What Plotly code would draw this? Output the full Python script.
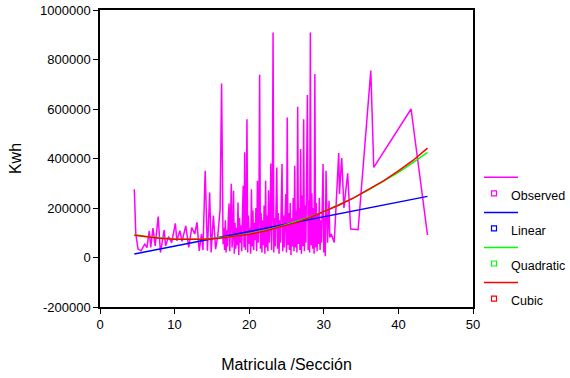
import plotly.graph_objects as go

# ---------------- data (y values in thousands of Kwh) ----------------
obs_x = [4.6, 4.8, 5.1, 5.5, 6.0, 6.3, 6.6, 6.8, 7.1, 7.4, 7.8, 8.1, 8.6, 8.8, 9.2, 9.6,
         10.1, 10.3, 10.7, 11.0, 11.5, 11.9, 12.3, 12.7, 13.0, 13.3, 13.6, 13.8, 14.1, 14.4,
         14.7, 14.9, 15.2, 15.5, 15.8, 16.1, 16.3, 16.5,
         16.6, 16.7, 16.8, 16.9, 17.0, 17.1, 17.2, 17.3, 17.4, 17.5, 17.6, 17.7, 17.8, 17.9,
         18.0, 18.1, 18.2, 18.3, 18.4, 18.5, 18.6, 18.7, 18.8, 18.9, 19.0, 19.1, 19.2, 19.3,
         19.4, 19.5, 19.6, 19.7, 19.8, 19.9, 20.0, 20.1, 20.2, 20.3, 20.4, 20.5, 20.6, 20.7,
         20.8, 20.9, 21.0, 21.1, 21.2, 21.3, 21.4, 21.5, 21.6, 21.7, 21.8, 21.9, 22.0, 22.1,
         22.2, 22.3, 22.4, 22.5, 22.6, 22.7, 22.8, 22.9, 23.0, 23.1, 23.2, 23.3, 23.4, 23.5,
         23.6, 23.7, 23.8, 23.9, 24.0, 24.1, 24.2, 24.3, 24.4, 24.5, 24.6, 24.7, 24.8, 24.9,
         25.0, 25.1, 25.2, 25.3, 25.4, 25.5, 25.6, 25.7, 25.8, 25.9, 26.0, 26.1, 26.2, 26.3,
         26.4, 26.5, 26.6, 26.7, 26.8, 26.9, 27.0, 27.1, 27.2, 27.3, 27.4, 27.5, 27.6, 27.7,
         27.8, 27.9, 28.0, 28.1, 28.2, 28.3, 28.4, 28.5, 28.6, 28.7, 28.8, 28.9, 29.0, 29.1,
         29.2, 29.3, 29.4, 29.5, 29.6, 29.7, 29.8, 29.9, 30.0,
         30.1, 30.2, 30.3, 30.5, 30.7, 30.8, 31.0, 31.4, 32.0, 32.1, 32.4, 32.7, 33.2, 33.6,
         34.6, 36.3, 36.7, 41.7, 43.9]
obs_y = [276, 95, 34, 27, 54, 40, 108, 41, 119, 47, 165, 20, 111, 47, 85, 60,
         138, 68, 108, 65, 128, 41, 121, 95, 142, 27, 95, 30, 350, 27,
         263, 20, 169, 34, 90, 196, 703, 54,
         120, 30, 150, 20, 110, 45, 160, 218, 25, 130, 298, 40, 90, 270,
         15, 140, 35, 120, 50, 222, 10, 160, 60, 130, 25, 180, 290, 40,
         425, 30, 150, 559, 20, 170, 55, 120, 15, 276, 45, 190, 30, 140,
         70, 200, 25, 310, 60, 160, 738, 35, 180, 20, 150, 50, 210, 15,
         310, 40, 170, 25, 272, 60, 140, 380, 30, 190, 909, 20, 160, 45,
         210, 364, 35, 180, 15, 150, 60, 230, 378, 25, 170, 40, 200, 256,
         20, 566, 50, 180, 30, 220, 10, 160, 45, 240, 25, 371, 40, 190,
         20, 609, 55, 200, 30, 438, 15, 250, 45, 559, 25, 210, 60, 280,
         657, 30, 230, 20, 909, 50, 260, 35, 200, 15, 741, 40, 220, 25,
         180, 55, 240, 30, 150, 60, 200, 378, 20,
         160, 5, 350, 60, 229, 81, 95, 61, 422, 257, 402, 200, 340, 115,
         112, 755, 364, 600, 91]

fit_x = [4.6, 6, 8, 10, 12, 14, 16, 18, 20, 22, 24, 26, 28, 30, 32, 34, 36, 38, 40, 42, 43.9]
linear_y = [14, 22, 34, 46, 58, 70, 82, 93, 105, 117, 129, 141, 153, 165, 176, 188, 200, 212, 224, 236, 247]
quadratic_y = [93, 86, 80, 75, 74, 75, 80, 86, 96, 108, 124, 142, 162, 186, 212, 241, 273, 307, 344, 384, 425]
cubic_y = [90, 84, 78, 74, 73, 74, 78, 85, 94, 106, 121, 139, 160, 184, 211, 241, 274, 310, 350, 393, 442]

series_names = ["Observed", "Linear", "Quadratic", "Cubic"]
series_colors = ["#FF00FF", "#0000FF", "#00FF00", "#FF0000"]

y_tick_vals = [-200000, 0, 200000, 400000, 600000, 800000, 1000000]
y_tick_labels = ["-200000", "0", "200000", "400000", "600000", "800000", "1000000"]
x_tick_vals = [0, 10, 20, 30, 40, 50]

# ---------------- layout geometry (page pixels) ----------------
PAGE_W, PAGE_H = 570, 378
PLOT_L, PLOT_R, PLOT_T, PLOT_B = 100, 473, 10, 307


def paper_x(px):
    return (px - PLOT_L) / (PLOT_R - PLOT_L)


def paper_y(py):
    return (PLOT_B - py) / (PLOT_B - PLOT_T)


# ---------------- figure ----------------
K = 1000
series = [
    (obs_x, [v * K for v in obs_y]),
    (fit_x, [v * K for v in linear_y]),
    (fit_x, [v * K for v in quadratic_y]),
    (fit_x, [v * K for v in cubic_y]),
]

fig = go.Figure()
for (xs, ys), name, col in zip(series, series_names, series_colors):
    fig.add_trace(go.Scatter(x=xs, y=ys, mode="lines", name=name,
                             line=dict(color=col, width=1.5), showlegend=False,
                             hoverinfo="x+y+name"))

font_family = "Liberation Sans, Arial, sans-serif"

# legend drawn as: line sample, then small open square + label, per series
shapes = []
annotations = []
LEG_LINE_X0, LEG_LINE_X1 = 484, 518
LEG_MARK_X, LEG_TEXT_X = 494, 509
LEG_Y0, LEG_STEP = 177.3, 35.1
for i, (name, col) in enumerate(zip(series_names, series_colors)):
    ly = LEG_Y0 + i * LEG_STEP
    shapes.append(dict(type="line", xref="paper", yref="paper",
                       x0=paper_x(LEG_LINE_X0), x1=paper_x(LEG_LINE_X1),
                       y0=paper_y(ly), y1=paper_y(ly),
                       line=dict(color=col, width=1.5)))
    my = ly + 16
    shapes.append(dict(type="rect", xref="paper", yref="paper",
                       x0=paper_x(LEG_MARK_X - 2.5), x1=paper_x(LEG_MARK_X + 2.5),
                       y0=paper_y(my + 2.5), y1=paper_y(my - 2.5),
                       line=dict(color=col, width=1.2), fillcolor="rgba(0,0,0,0)"))
    annotations.append(dict(text=name, xref="paper", yref="paper",
                            x=paper_x(LEG_TEXT_X), y=paper_y(ly + 18.3),
                            xanchor="left", yanchor="middle", showarrow=False,
                            font=dict(size=12.5, family=font_family, color="#000000")))

fig.update_layout(
    width=PAGE_W, height=PAGE_H,
    margin=dict(l=PLOT_L, r=PAGE_W - PLOT_R, t=PLOT_T, b=PAGE_H - PLOT_B, autoexpand=False),
    paper_bgcolor="white", plot_bgcolor="white",
    font=dict(family=font_family, color="#000000", size=13),
    showlegend=False,
    shapes=shapes,
    annotations=annotations,
    xaxis=dict(range=[0, 50], tickvals=x_tick_vals, showgrid=False, zeroline=False,
               showline=True, linecolor="#000000", linewidth=1.5, mirror=True,
               ticks="outside", ticklen=5, tickwidth=1, tickcolor="#000000",
               tickfont=dict(size=13),
               title=dict(text="Matricula /Sección", font=dict(size=16), standoff=27),
               automargin=False),
    yaxis=dict(range=[-200000, 1000000], tickvals=y_tick_vals, ticktext=y_tick_labels,
               showgrid=False, zeroline=False,
               showline=True, linecolor="#000000", linewidth=1.5, mirror=True,
               ticks="outside", ticklen=5, tickwidth=1, tickcolor="#000000",
               tickfont=dict(size=13),
               title=dict(text="Kwh", font=dict(size=16), standoff=14),
               automargin=False),
)

# remove the default page margin so the 570x378 figure fills the window exactly
fig.write_html("out.html",
               config={"displayModeBar": False},
               post_script="document.body.style.margin='0';document.body.style.overflow='hidden';")
